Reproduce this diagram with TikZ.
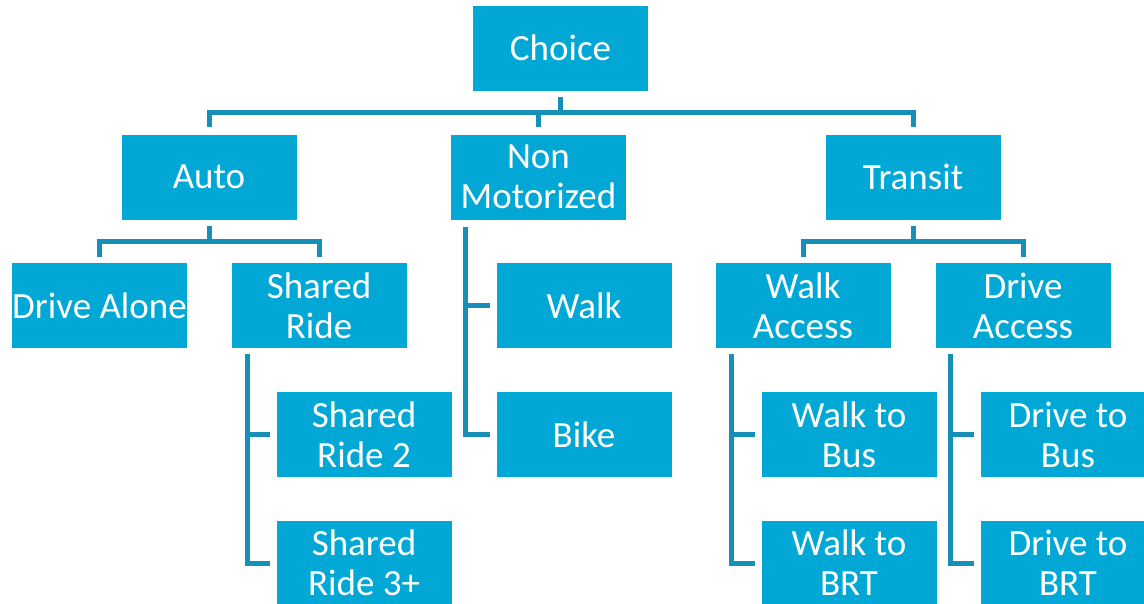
\documentclass[tikz,border=0pt]{standalone}
\usepackage{fontspec}
\setmainfont{Carlito}
\definecolor{boxcyan}{RGB}{2,168,213}
\definecolor{linkteal}{RGB}{22,144,182}
\begin{document}
\begin{tikzpicture}[x=1pt,y=-1pt,
  mode/.style={rectangle, fill=boxcyan, draw=none, minimum width=175pt, minimum height=85pt,
    inner sep=0pt, align=center, text=white, font=\fontsize{37}{40}\selectfont},
  conn/.style={draw=linkteal, line width=5pt}]
\useasboundingbox (0,0) rectangle (1144,603);
\clip (0,0) rectangle (1144,603);

% boxes
\node[mode] (choice)     at (560.5,48)   {Choice};
\node[mode] (auto)       at (209,177)    {Auto};
\node[mode] (nonmot)     at (538.5,177)  {Non\\Motorized};
\node[mode] (transit)    at (913,177)    {Transit};
\node[mode] (drivealone) at (99.5,305.5) {Drive Alone};
\node[mode] (shared)     at (319,305.5)  {Shared\\Ride};
\node[mode] (sr2)        at (364,434.5)  {Shared\\Ride 2};
\node[mode] (sr3)        at (364,563)    {Shared\\Ride 3+};
\node[mode] (walk)       at (584,305.5)  {Walk};
\node[mode] (bike)       at (584,434.5)  {Bike};
\node[mode] (walkacc)    at (803,305.5)  {Walk\\Access};
\node[mode] (driveacc)   at (1023,305.5) {Drive\\Access};
\node[mode] (wbus)       at (849,434.5)  {Walk to\\Bus};
\node[mode] (wbrt)       at (849,563)    {Walk to\\BRT};
\node[mode] (dbus)       at (1068,434.5) {Drive to\\Bus};
\node[mode] (dbrt)       at (1068,563)   {Drive to\\BRT};

% top level bracket
\coordinate (cbar) at ([yshift=-22pt]choice.south);
\draw[conn] ([yshift=-6pt]choice.south) -- (cbar);
\draw[conn] ([yshift=7pt]auto.north) |- (cbar) -| ([yshift=7pt]transit.north);
\draw[conn] ([yshift=7pt]nonmot.north) -- (nonmot.north |- cbar);

% auto bracket
\coordinate (abar) at ([yshift=-22pt]auto.south);
\draw[conn] ([yshift=-6pt]auto.south) -- (abar);
\draw[conn] ([yshift=6pt]drivealone.north) |- (abar) -| ([yshift=6pt]shared.north);

% transit bracket
\coordinate (tbar) at ([yshift=-22pt]transit.south);
\draw[conn] ([yshift=-6pt]transit.south) -- (tbar);
\draw[conn] ([yshift=6pt]walkacc.north) |- (tbar) -| ([yshift=6pt]driveacc.north);

% side rails
\coordinate (srail) at ([xshift=16pt,yshift=-6pt]shared.south west);
\draw[conn] (srail) |- ([xshift=-6pt]sr3.west);
\draw[conn] ([xshift=-6pt]sr2.west) -- (srail |- sr2.west);

\coordinate (nrail) at ([xshift=15pt,yshift=-7pt]nonmot.south west);
\draw[conn] (nrail) |- ([xshift=-6pt]bike.west);
\draw[conn] ([xshift=-6pt]walk.west) -- (nrail |- walk.west);

\coordinate (warail) at ([xshift=16pt,yshift=-6pt]walkacc.south west);
\draw[conn] (warail) |- ([xshift=-6pt]wbrt.west);
\draw[conn] ([xshift=-6pt]wbus.west) -- (warail |- wbus.west);

\coordinate (darail) at ([xshift=15pt,yshift=-6pt]driveacc.south west);
\draw[conn] (darail) |- ([xshift=-6pt]dbrt.west);
\draw[conn] ([xshift=-6pt]dbus.west) -- (darail |- dbus.west);
\end{tikzpicture}
\end{document}
